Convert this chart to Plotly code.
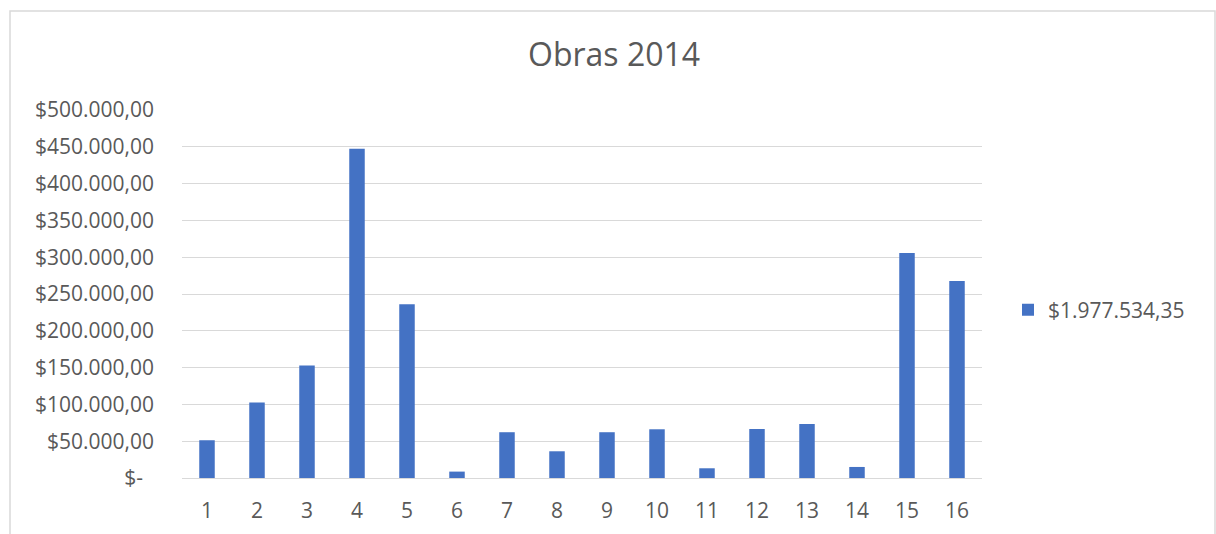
"""Obras 2014 — Excel-style column chart rebuilt in Plotly."""
import plotly.graph_objects as go

CATEGORIES = [str(i) for i in range(1, 17)]
VALUES = [51300, 102500, 152800, 447400, 236200, 8700, 62200, 36300,
          62200, 66200, 13200, 66600, 73400, 15000, 305600, 267500]
SERIES_NAME = "$1.977.534,35"
TICK_VALS = [0, 50000, 100000, 150000, 200000, 250000, 300000, 350000, 400000, 450000, 500000]
TICK_TEXT = ["$-\u00a0\u00a0"] + [
    "$" + f"{v:,.2f}".replace(",", "X").replace(".", ",").replace("X", ".") for v in TICK_VALS[1:]
]

_FONT = dict(family="Open Sans, sans-serif", color="#595959")
_GRID = "#d9d9d9"

fig = go.Figure(go.Bar(
    x=CATEGORIES, y=VALUES, name=SERIES_NAME,
    marker=dict(color="#4472c4", line=dict(width=0)),
    showlegend=True,
))

fig.update_layout(
    width=1216, height=534,
    paper_bgcolor="#ffffff", plot_bgcolor="#ffffff",
    font=dict(_FONT, size=21),
    margin=dict(l=182, r=234, t=110, b=56, autoexpand=False),
    bargap=0.69,
    title=dict(text="Obras 2014", font=dict(_FONT, size=32),
               x=0.505, xref="container", xanchor="center",
               y=1 - 55 / 534, yref="container", yanchor="middle"),
    legend=dict(x=1.0325, xanchor="left", y=0.4565, yanchor="middle",
                font=dict(_FONT, size=21), bgcolor="rgba(0,0,0,0)"),
    xaxis=dict(showgrid=False, showline=True, linecolor=_GRID, linewidth=1.3,
               ticks="", ticklabelstandoff=14, tickfont=dict(_FONT, size=21)),
    yaxis=dict(range=[0, 500000], tickvals=TICK_VALS, ticktext=TICK_TEXT,
               showgrid=True, gridcolor=_GRID, gridwidth=1.3, zeroline=False,
               showline=False, ticks="", ticklabelstandoff=27,
               tickfont=dict(_FONT, size=21)),
    shapes=[dict(type="rect", xref="paper", yref="paper",
                 x0=(10 - 182) / 800, x1=(1215 - 182) / 800,
                 y0=(478 - 560) / 368, y1=(478 - 11) / 368,
                 line=dict(color=_GRID, width=1.5), layer="below")],
)

# drop the browser's default 8px body margin so the figure sits at the page origin
fig.write_html("out.html", config={"displayModeBar": False},
               post_script="document.body.style.margin='0';")
